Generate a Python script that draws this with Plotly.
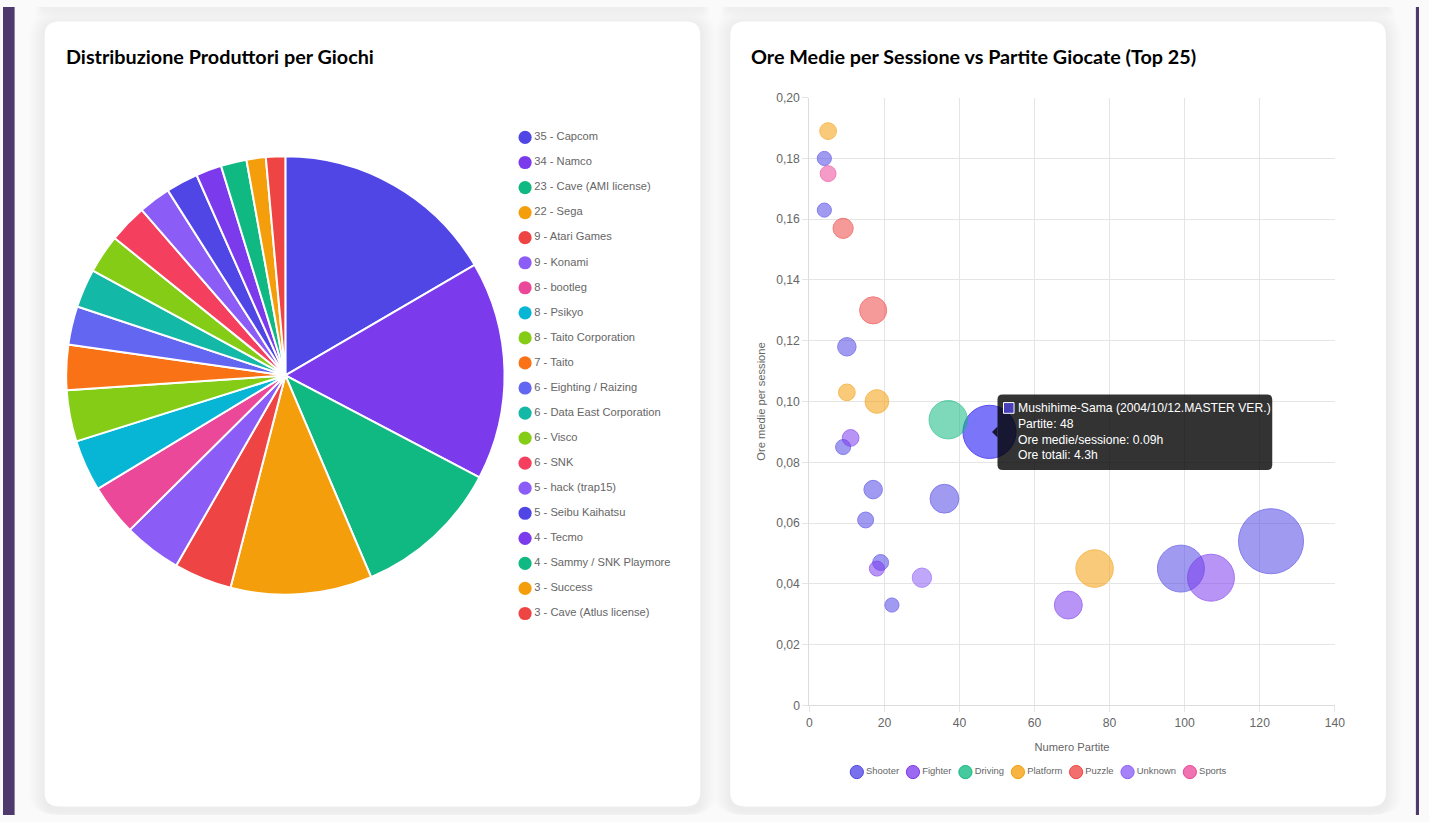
import plotly.graph_objects as go

W, H = 1429, 822

# ---------------- DATA ----------------
produttori = ["Capcom", "Namco", "Cave (AMI license)", "Sega", "Atari Games", "Konami",
              "bootleg", "Psikyo", "Taito Corporation", "Taito", "Eighting / Raizing",
              "Data East Corporation", "Visco", "SNK", "hack (trap15)", "Seibu Kaihatsu",
              "Tecmo", "Sammy / SNK Playmore", "Success", "Cave (Atlus license)"]
giochi = [35, 34, 23, 22, 9, 9, 8, 8, 8, 7, 6, 6, 6, 6, 5, 5, 4, 4, 3, 3]

generi = ["Shooter", "Fighter", "Driving", "Platform", "Puzzle", "Unknown", "Sports"]
partite = {
    "Shooter": [123, 99, 48, 36, 10, 17, 9, 15, 19, 22, 4, 4],
    "Fighter": [107, 69, 11, 18],
    "Driving": [37],
    "Platform": [76, 18, 10, 5],
    "Puzzle": [17, 9],
    "Unknown": [30],
    "Sports": [5],
}
ore_medie = {
    "Shooter": [0.054, 0.045, 0.090, 0.068, 0.118, 0.071, 0.085, 0.061, 0.047, 0.033, 0.180, 0.163],
    "Fighter": [0.042, 0.033, 0.088, 0.045],
    "Driving": [0.094],
    "Platform": [0.045, 0.100, 0.103, 0.189],
    "Puzzle": [0.130, 0.157],
    "Unknown": [0.042],
    "Sports": [0.175],
}
ore_totali = {
    "Shooter": [6.6, 4.5, 4.3, 2.4, 1.2, 1.2, 0.8, 0.9, 0.9, 0.7, 0.7, 0.7],
    "Fighter": [4.5, 2.3, 1.0, 0.8],
    "Driving": [3.5],
    "Platform": [3.4, 1.8, 1.0, 1.0],
    "Puzzle": [2.2, 1.4],
    "Unknown": [1.3],
    "Sports": [0.9],
}
hover_gioco = "Mushihime-Sama (2004/10/12.MASTER VER.)"
hover_genere, hover_idx = "Shooter", 2

x_ticks = [0, 20, 40, 60, 80, 100, 120, 140]
y_ticks = [0, 0.02, 0.04, 0.06, 0.08, 0.10, 0.12, 0.14, 0.16, 0.18, 0.20]
y_ticktext = ["0", "0,02", "0,04", "0,06", "0,08", "0,10", "0,12", "0,14", "0,16", "0,18", "0,20"]

# ---------------- STYLE ----------------
pie_colors = ["#4F46E5", "#7C3AED", "#10B981", "#F59E0B", "#EF4444", "#8B5CF6", "#EC4899",
              "#06B6D4", "#84CC16", "#F97316", "#6366F1", "#14B8A6", "#84CC16", "#F43F5E",
              "#8B5CF6", "#4F46E5", "#7C3AED", "#10B981", "#F59E0B", "#EF4444"]
genre_rgb = {
    "Shooter": (79, 70, 229), "Fighter": (124, 58, 237), "Driving": (16, 185, 129),
    "Platform": (245, 158, 11), "Puzzle": (239, 68, 68), "Unknown": (139, 92, 246),
    "Sports": (236, 72, 153),
}
ALPHA = 0.77
PURPLE = "#4f3a6d"
PAGE_BG = "#fafafa"
CJS_FONT = "Arial, 'Liberation Sans', Helvetica, sans-serif"
TITLE_FONT = "Lato, 'Noto Sans', sans-serif"

# the captured picture is offset and slightly shrunk relative to the page;
# layout positions below are given in picture pixels and mapped back to the page
AX, SX, AY, SY = 3.4, 0.990, 7.4, 0.982
FS = 2 / (SX + SY)

# approximate Arial advance widths (em) used to lay out the custom bottom legend
ARIAL_W = {"S": .667, "h": .556, "o": .556, "t": .278, "e": .556, "r": .333, "F": .611,
           "i": .222, "g": .556, "D": .722, "v": .5, "n": .556, "P": .667, "l": .222,
           "a": .556, "f": .278, "m": .833, "u": .556, "z": .5, "U": .722, "k": .5,
           "w": .722, "p": .556, "s": .5}
LEG_FS = 9.3


def px(x):
    return min(max((x - AX) / SX, 0), W) / W


def py(y):
    return 1 - min(max((y - AY) / SY, 0), H) / H


def rrect(x0, y0, x1, y1, r):
    p = [
        f"M {px(x0 + r)},{py(y0)}", f"L {px(x1 - r)},{py(y0)}",
        f"Q {px(x1)},{py(y0)} {px(x1)},{py(y0 + r)}", f"L {px(x1)},{py(y1 - r)}",
        f"Q {px(x1)},{py(y1)} {px(x1 - r)},{py(y1)}", f"L {px(x0 + r)},{py(y1)}",
        f"Q {px(x0)},{py(y1)} {px(x0)},{py(y1 - r)}", f"L {px(x0)},{py(y0 + r)}",
        f"Q {px(x0)},{py(y0)} {px(x0 + r)},{py(y0)}", "Z",
    ]
    return " ".join(p)


shapes = []
# purple page edges
for x0, x1 in [(-10, 15), (1415, W + 20)]:
    shapes.append(dict(type="rect", xref="paper", yref="paper", x0=px(x0), x1=px(x1),
                       y0=0, y1=1, fillcolor=PURPLE, line_width=0, layer="below"))
# soft shadows of the cards
cards = [(45, 22, 700, 806), (730, 22, 1385, 806)]
for (x0, y0, x1, y1) in cards:
    for i in range(1, 8):
        e = 2.2 * i
        shapes.append(dict(type="path", xref="paper", yref="paper",
                           path=rrect(x0 - e, y0 - e + 3, x1 + e, y1 + e + 3, 14 + e),
                           fillcolor="rgba(0,0,0,0.008)", line_width=0, layer="below"))
# shadow bottoms of the cards sitting above the visible area
for (x0, _, x1, _) in cards:
    for i in range(1, 5):
        e = 2.2 * i
        shapes.append(dict(type="rect", xref="paper", yref="paper",
                           x0=px(x0 - e), x1=px(x1 + e), y0=py(e + 8), y1=1,
                           fillcolor="rgba(0,0,0,0.010)", line_width=0, layer="below"))
for (x0, y0, x1, y1) in cards:
    shapes.append(dict(type="path", xref="paper", yref="paper", path=rrect(x0, y0, x1, y1, 14),
                       fillcolor="#ffffff", line_width=0, layer="below"))

fig = go.Figure()

# ---------------- PIE ----------------
fig.add_trace(go.Pie(
    labels=produttori, values=giochi, sort=False, direction="clockwise", rotation=0,
    marker=dict(colors=pie_colors, line=dict(color="#ffffff", width=2)),
    textinfo="none", hoverinfo="label+value", showlegend=False,
    domain=dict(x=[px(66), px(505)], y=[py(594.5), py(156.5)]),
))

# pie legend (circles + labels) on a hidden helper axis, one row per producer
fig.add_trace(go.Scatter(
    x=[0] * len(produttori), y=list(range(len(produttori))),
    mode="markers+text",
    marker=dict(size=13 * FS, color=pie_colors, line=dict(width=0)),
    text=[f"{g} - {p}" for g, p in zip(giochi, produttori)],
    textposition="middle right",
    textfont=dict(family=CJS_FONT, size=11 * FS, color="#666666"),
    hoverinfo="skip", showlegend=False, xaxis="x2", yaxis="y2", cliponaxis=False,
))

# ---------------- BUBBLES ----------------
for g in generi:
    r, gg, b = genre_rgb[g]
    n = len(partite[g])
    colors = [f"rgba({r},{gg},{b},{ALPHA})"] * n
    lcolors = [f"rgb({r},{gg},{b})"] * n
    sizes = [2 * (4 + 4.25 * h) * FS for h in ore_totali[g]]
    if g == hover_genere:
        colors[hover_idx] = "rgba(12,0,245,0.77)"
        lcolors[hover_idx] = "rgb(20,5,245)"
        sizes[hover_idx] += 8
    fig.add_trace(go.Scatter(
        x=partite[g], y=ore_medie[g], mode="markers", name=g,
        marker=dict(size=sizes, sizemode="diameter", color=colors,
                    line=dict(color=lcolors, width=1)),
        hoverinfo="skip", cliponaxis=False, showlegend=False,
    ))

# bottom legend for the bubble chart (Chart.js style: circle + label, centred)
widths = [sum(ARIAL_W.get(c, .55) for c in g) * LEG_FS for g in generi]
strides = [23.5 + w for w in widths]
total = sum(strides) - 7
left = 1038 - total / 2
centers = []
cur = left + 6.5
for s in strides:
    centers.append(cur)
    cur += s
fig.add_trace(go.Scatter(
    x=centers, y=[771.7] * len(generi), mode="markers+text",
    marker=dict(size=13 * FS, color=[f"rgba({genre_rgb[g][0]},{genre_rgb[g][1]},{genre_rgb[g][2]},{ALPHA})" for g in generi],
                line=dict(color=[f"rgb{genre_rgb[g]}" for g in generi], width=1)),
    text=generi, textposition="middle right",
    textfont=dict(family=CJS_FONT, size=LEG_FS * FS, color="#666666"),
    hoverinfo="skip", showlegend=False, xaxis="x3", yaxis="y3", cliponaxis=False,
))

# ---------------- TOOLTIP (hover state) ----------------
hx = partite[hover_genere][hover_idx]
hy = ore_medie[hover_genere][hover_idx]
ht = ore_totali[hover_genere][hover_idx]
shapes.append(dict(type="path", xref="paper", yref="paper",
                   path=rrect(997, 394.5, 1271.5, 470, 5),
                   fillcolor="rgba(0,0,0,0.8)", line_width=0, layer="above"))
shapes.append(dict(type="path", xref="paper", yref="paper",
                   path=f"M {px(997)},{py(426.5)} L {px(991.5)},{py(432)} L {px(997)},{py(437.5)} Z",
                   fillcolor="rgba(0,0,0,0.8)", line_width=0, layer="above"))
shapes.append(dict(type="rect", xref="paper", yref="paper",
                   x0=px(1003), x1=px(1013.5), y0=py(413.3), y1=py(402.6),
                   fillcolor="rgba(79,70,229,0.75)", line=dict(color="#ffffff", width=1),
                   layer="above"))

annotations = [
    dict(text="<b>Distribuzione Produttori per Giochi</b>", xref="paper", yref="paper",
         x=px(64), y=py(56), xanchor="left", yanchor="middle", showarrow=False,
         font=dict(family=TITLE_FONT, size=19.5 * FS, color="#000000")),
    dict(text="<b>Ore Medie per Sessione vs Partite Giocate (Top 25)</b>", xref="paper",
         yref="paper", x=px(749), y=py(56), xanchor="left", yanchor="middle", showarrow=False,
         font=dict(family=TITLE_FONT, size=19.5 * FS, color="#000000")),
    dict(text=(f"{hover_gioco}<br>Partite: {hx}<br>Ore medie/sessione: {hy:.2f}h"
               f"<br>Ore totali: {ht}h"),
         xref="paper", yref="paper", x=px(1015), y=py(431.7), xanchor="left",
         yanchor="middle", align="left", showarrow=False,
         font=dict(family=CJS_FONT, size=12 * FS, color="#ffffff")),
]

grid = "#e5e5e5"
fig.update_layout(
    width=W, height=H, margin=dict(l=0, r=0, t=0, b=0, pad=0),
    paper_bgcolor=PAGE_BG, plot_bgcolor="rgba(0,0,0,0)",
    shapes=shapes, annotations=annotations, showlegend=False,
    xaxis=dict(domain=[px(809), px(1334)], range=[0, 140], tickvals=x_ticks,
               showgrid=True, gridcolor=grid, gridwidth=1, zeroline=False,
               showline=True, linecolor="#dcdcdc", mirror=False,
               ticks="outside", ticklen=6, tickcolor=grid,
               tickfont=dict(family=CJS_FONT, size=12 * FS, color="#666666"),
               title=dict(text="Numero Partite", standoff=14,
                          font=dict(family=CJS_FONT, size=11 * FS, color="#666666")),
               fixedrange=True),
    yaxis=dict(domain=[py(705), py(98)], range=[0, 0.2], tickvals=y_ticks, ticktext=y_ticktext,
               showgrid=True, gridcolor=grid, gridwidth=1, zeroline=False,
               showline=True, linecolor="#dcdcdc", mirror=False,
               ticks="outside", ticklen=6, tickcolor=grid,
               tickfont=dict(family=CJS_FONT, size=12 * FS, color="#666666"),
               title=dict(text="Ore medie per sessione", standoff=8,
                          font=dict(family=CJS_FONT, size=11 * FS, color="#666666")),
               fixedrange=True),
    xaxis2=dict(domain=[px(515), px(700)], range=[-10, 175], visible=False, fixedrange=True),
    yaxis2=dict(domain=[py(625.8), py(125.2)], range=[19.5, -0.5], visible=False,
                fixedrange=True),
    xaxis3=dict(domain=[0, 1], range=[AX, AX + SX * W], visible=False, fixedrange=True),
    yaxis3=dict(domain=[0, 1], range=[AY + SY * H, AY], visible=False, fixedrange=True),
)

# remove the default body margin so the figure sits at the page corner
fig.write_html(
    "out.html",
    config=dict(displayModeBar=False),
    post_script=("document.body.style.margin='0';document.body.style.padding='0';"
                 "document.body.style.overflow='hidden';"
                 "document.documentElement.style.overflow='hidden';"),
)
